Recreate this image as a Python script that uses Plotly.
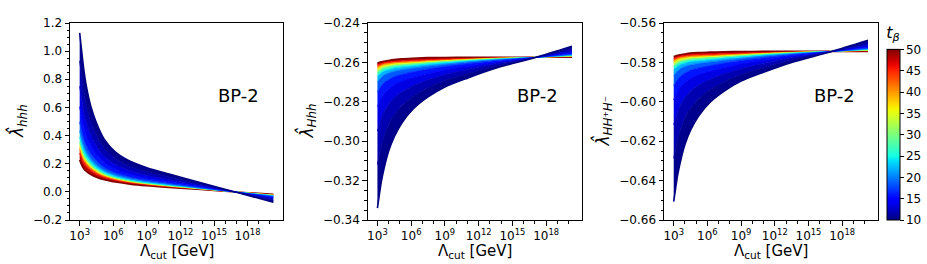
import plotly.graph_objects as go

# ---------------- data ----------------
lambda_cut = [1.0e3, 1.413e3, 2.239e3, 3.981e3, 1.0e4, 3.162e4, 1.585e5,
              1.585e6, 3.162e7, 1.0e9, 1.0e11, 3.162e13, 1.0e17, 1.995e20]

tan_beta = [10, 11, 12.5, 14.5, 17, 20, 24, 29, 35, 41, 46, 50]

lam_hhh = [
    [1.130, 1.020, 0.880, 0.750, 0.607, 0.489, 0.373, 0.283, 0.218, 0.172, 0.126, 0.072, -0.003, -0.074],
    [0.931, 0.838, 0.723, 0.617, 0.500, 0.404, 0.310, 0.236, 0.182, 0.144, 0.105, 0.060, -0.003, -0.062],
    [0.750, 0.673, 0.580, 0.496, 0.404, 0.327, 0.252, 0.194, 0.150, 0.118, 0.086, 0.049, -0.002, -0.050],
    [0.606, 0.541, 0.465, 0.399, 0.326, 0.266, 0.207, 0.159, 0.123, 0.097, 0.071, 0.041, -0.002, -0.042],
    [0.497, 0.442, 0.380, 0.326, 0.268, 0.220, 0.172, 0.134, 0.104, 0.082, 0.060, 0.034, -0.002, -0.035],
    [0.434, 0.385, 0.330, 0.284, 0.234, 0.193, 0.152, 0.119, 0.093, 0.073, 0.053, 0.030, -0.002, -0.031],
    [0.389, 0.344, 0.294, 0.254, 0.210, 0.173, 0.138, 0.108, 0.084, 0.066, 0.048, 0.028, -0.001, -0.028],
    [0.353, 0.311, 0.265, 0.230, 0.191, 0.158, 0.126, 0.100, 0.078, 0.061, 0.044, 0.026, -0.001, -0.026],
    [0.330, 0.290, 0.247, 0.215, 0.179, 0.148, 0.119, 0.095, 0.074, 0.058, 0.042, 0.024, -0.001, -0.024],
    [0.307, 0.269, 0.229, 0.200, 0.167, 0.139, 0.112, 0.089, 0.070, 0.055, 0.040, 0.023, -0.001, -0.023],
    [0.276, 0.240, 0.204, 0.178, 0.150, 0.125, 0.102, 0.082, 0.064, 0.050, 0.036, 0.021, -0.001, -0.021],
    [0.226, 0.195, 0.165, 0.145, 0.123, 0.104, 0.086, 0.070, 0.055, 0.043, 0.031, 0.018, -0.001, -0.018],
]

lam_Hhh = [
    [-0.3340, -0.3280, -0.3205, -0.3136, -0.3050, -0.2977, -0.2905, -0.2835, -0.2775, -0.2725, -0.2680, -0.2630, -0.2576, -0.2518],
    [-0.3119, -0.3076, -0.3023, -0.2973, -0.2916, -0.2866, -0.2818, -0.2772, -0.2729, -0.2692, -0.2657, -0.2618, -0.2576, -0.2530],
    [-0.2949, -0.2920, -0.2883, -0.2849, -0.2811, -0.2778, -0.2748, -0.2718, -0.2688, -0.2662, -0.2636, -0.2607, -0.2575, -0.2542],
    [-0.2824, -0.2804, -0.2779, -0.2757, -0.2734, -0.2713, -0.2694, -0.2676, -0.2656, -0.2638, -0.2619, -0.2598, -0.2575, -0.2550],
    [-0.2750, -0.2736, -0.2719, -0.2702, -0.2687, -0.2672, -0.2660, -0.2647, -0.2633, -0.2620, -0.2606, -0.2591, -0.2575, -0.2557],
    [-0.2699, -0.2688, -0.2676, -0.2664, -0.2654, -0.2645, -0.2637, -0.2629, -0.2619, -0.2610, -0.2598, -0.2587, -0.2575, -0.2561],
    [-0.2669, -0.2661, -0.2652, -0.2643, -0.2636, -0.2628, -0.2623, -0.2617, -0.2609, -0.2602, -0.2593, -0.2584, -0.2574, -0.2564],
    [-0.2651, -0.2644, -0.2637, -0.2629, -0.2623, -0.2617, -0.2613, -0.2608, -0.2602, -0.2596, -0.2589, -0.2582, -0.2574, -0.2566],
    [-0.2636, -0.2631, -0.2624, -0.2618, -0.2614, -0.2609, -0.2606, -0.2602, -0.2597, -0.2592, -0.2586, -0.2580, -0.2574, -0.2568],
    [-0.2624, -0.2619, -0.2614, -0.2609, -0.2606, -0.2602, -0.2599, -0.2597, -0.2592, -0.2589, -0.2584, -0.2579, -0.2574, -0.2569],
    [-0.2613, -0.2610, -0.2606, -0.2602, -0.2598, -0.2595, -0.2592, -0.2589, -0.2586, -0.2583, -0.2580, -0.2577, -0.2574, -0.2571],
    [-0.2603, -0.2600, -0.2597, -0.2594, -0.2590, -0.2586, -0.2582, -0.2579, -0.2576, -0.2575, -0.2574, -0.2574, -0.2574, -0.2574],
]

lam_HHpHm = [
    [-0.6507, -0.6447, -0.6372, -0.6303, -0.6217, -0.6144, -0.6073, -0.6004, -0.5945, -0.5895, -0.5850, -0.5800, -0.5746, -0.5688],
    [-0.6286, -0.6243, -0.6190, -0.6140, -0.6083, -0.6033, -0.5986, -0.5941, -0.5899, -0.5862, -0.5827, -0.5788, -0.5746, -0.5700],
    [-0.6116, -0.6087, -0.6050, -0.6016, -0.5978, -0.5945, -0.5916, -0.5887, -0.5858, -0.5832, -0.5806, -0.5777, -0.5745, -0.5712],
    [-0.5991, -0.5971, -0.5946, -0.5924, -0.5901, -0.5880, -0.5862, -0.5845, -0.5826, -0.5808, -0.5789, -0.5768, -0.5745, -0.5720],
    [-0.5917, -0.5903, -0.5886, -0.5869, -0.5854, -0.5839, -0.5828, -0.5816, -0.5803, -0.5790, -0.5776, -0.5761, -0.5745, -0.5727],
    [-0.5866, -0.5855, -0.5843, -0.5831, -0.5821, -0.5812, -0.5805, -0.5798, -0.5789, -0.5780, -0.5768, -0.5757, -0.5745, -0.5731],
    [-0.5836, -0.5828, -0.5819, -0.5810, -0.5803, -0.5795, -0.5791, -0.5786, -0.5779, -0.5772, -0.5763, -0.5754, -0.5744, -0.5734],
    [-0.5818, -0.5811, -0.5804, -0.5796, -0.5790, -0.5784, -0.5781, -0.5777, -0.5772, -0.5766, -0.5759, -0.5752, -0.5744, -0.5736],
    [-0.5803, -0.5798, -0.5791, -0.5785, -0.5781, -0.5776, -0.5774, -0.5771, -0.5767, -0.5762, -0.5756, -0.5750, -0.5744, -0.5738],
    [-0.5791, -0.5786, -0.5781, -0.5776, -0.5773, -0.5769, -0.5767, -0.5766, -0.5762, -0.5759, -0.5754, -0.5749, -0.5744, -0.5739],
    [-0.5780, -0.5777, -0.5773, -0.5769, -0.5765, -0.5762, -0.5760, -0.5758, -0.5756, -0.5753, -0.5750, -0.5747, -0.5744, -0.5741],
    [-0.5770, -0.5767, -0.5764, -0.5761, -0.5757, -0.5753, -0.5750, -0.5748, -0.5746, -0.5745, -0.5744, -0.5744, -0.5744, -0.5744],
]

x_tick_vals = [1e3, 1e6, 1e9, 1e12, 1e15, 1e18]
x_tick_text = ["10<sup>3</sup>", "10<sup>6</sup>", "10<sup>9</sup>",
               "10<sup>12</sup>", "10<sup>15</sup>", "10<sup>18</sup>"]
y1_ticks = [-0.2, 0.0, 0.2, 0.4, 0.6, 0.8, 1.0, 1.2]
y2_ticks = [-0.34, -0.32, -0.30, -0.28, -0.26, -0.24]
y3_ticks = [-0.66, -0.64, -0.62, -0.60, -0.58, -0.56]
cbar_ticks = [10, 15, 20, 25, 30, 35, 40, 45, 50]
tb_min, tb_max = 10, 50

# ---------------- colour map (matplotlib "jet") ----------------
_jet = {
    "r": [(0, 0), (0.35, 0), (0.66, 1), (0.89, 1), (1, 0.5)],
    "g": [(0, 0), (0.125, 0), (0.375, 1), (0.64, 1), (0.91, 0), (1, 0)],
    "b": [(0, 0.5), (0.11, 1), (0.34, 1), (0.65, 0), (1, 0)],
}


def _interp(pts, v):
    for (x0, y0), (x1, y1) in zip(pts[:-1], pts[1:]):
        if v <= x1:
            return y0 + (y1 - y0) * (v - x0) / (x1 - x0)
    return pts[-1][1]


def jet(v):
    v = min(max(v, 0.0), 1.0)
    r, g, b = (_interp(_jet[c], v) for c in "rgb")
    return "rgb(%d,%d,%d)" % (round(r * 255), round(g * 255), round(b * 255))


def tb_color(tb):
    return jet((tb - tb_min) / (tb_max - tb_min))


jet_scale = [[i / 40, jet(i / 40)] for i in range(41)]

# ---------------- layout geometry ----------------
W, H = 927, 264
FONT = "DejaVu Sans"
plots = [(70, 283), (367.7, 581.7), (664, 877.7)]
y_top, y_bot = 23, 220
ydom = [1 - y_bot / H, 1 - y_top / H]

fig = go.Figure()

panels = [
    (lam_hhh, "x", "y"),
    (lam_Hhh, "x2", "y2"),
    (lam_HHpHm, "x3", "y3"),
]

for data, xa, ya in panels:
    order = list(range(len(tan_beta)))[::-1]  # draw from tb=50 to tb=10
    for k, i in enumerate(order):
        tb = tan_beta[i]
        tr = dict(
            x=lambda_cut, y=data[i], mode="lines", xaxis=xa, yaxis=ya,
            line=dict(color=tb_color(tb), width=1.6 if tb in (10, 50) else 1.0,
                      shape="spline", smoothing=0.8),
            showlegend=False, hoverinfo="skip",
        )
        if k > 0:
            prev_tb = tan_beta[order[k - 1]]
            tr["fill"] = "tonexty"
            tr["fillcolor"] = tb_color(0.5 * (tb + prev_tb))
        fig.add_trace(go.Scatter(**tr))

# colour bar carrier
fig.add_trace(go.Scatter(
    x=[None], y=[None], mode="markers", xaxis="x3", yaxis="y3", showlegend=False,
    marker=dict(color=[tb_min, tb_max], cmin=tb_min, cmax=tb_max, colorscale=jet_scale,
                showscale=True,
                colorbar=dict(
                    x=886.7 / W, xanchor="left", xpad=0,
                    y=1 - (y_top + y_bot) / 2 / H, yanchor="middle", ypad=0,
                    len=(y_bot - y_top) / H, lenmode="fraction",
                    thickness=12.6, thicknessmode="pixels",
                    outlinewidth=1, outlinecolor="black",
                    tickmode="array", tickvals=cbar_ticks,
                    ticks="outside", ticklen=3.5, tickcolor="black",
                    tickfont=dict(family=FONT, size=12, color="black"),
                    title=dict(text="<i>t</i><sub><i>β</i></sub>", side="top",
                               font=dict(family=FONT, size=16, color="black")),
                )),
))

minor_x = [10.0 ** k for k in range(2, 22) if k % 3 != 0]


def xaxis_cfg(x0, x1, anchor):
    return dict(
        domain=[x0 / W, x1 / W], anchor=anchor, type="log", range=[2.135, 21.165],
        tickmode="array", tickvals=x_tick_vals, ticktext=x_tick_text,
        ticks="outside", ticklen=4.5, tickwidth=1, tickcolor="black",
        showline=True, linecolor="black", linewidth=1, mirror=True,
        showgrid=False, zeroline=False,
        tickfont=dict(family=FONT, size=12, color="black"),
        minor=dict(tickmode="array", tickvals=minor_x, ticks="outside", ticklen=2.5,
                   tickcolor="black", tickwidth=0.8, showgrid=False),
    )


def yaxis_cfg(anchor, rng, ticks, fmt, minor_step):
    return dict(
        domain=ydom, anchor=anchor, range=rng,
        tickmode="array", tickvals=ticks,
        ticktext=[(fmt % t).replace("-", "−") for t in ticks],
        ticks="outside", ticklen=4.5, tickwidth=1, tickcolor="black",
        showline=True, linecolor="black", linewidth=1, mirror=True,
        showgrid=False, zeroline=False,
        tickfont=dict(family=FONT, size=12, color="black"),
        minor=dict(tickmode="linear", tick0=rng[0], dtick=minor_step, ticks="outside",
                   ticklen=2.5, tickcolor="black", tickwidth=0.8, showgrid=False),
    )


fig.update_layout(
    width=W, height=H, margin=dict(l=0, r=0, t=0, b=0, autoexpand=False),
    paper_bgcolor="white", plot_bgcolor="white",
    font=dict(family=FONT, color="black"),
    xaxis=xaxis_cfg(*plots[0], "y"),
    xaxis2=xaxis_cfg(*plots[1], "y2"),
    xaxis3=xaxis_cfg(*plots[2], "y3"),
    yaxis=yaxis_cfg("x", [-0.2, 1.2], y1_ticks, "%.1f", 0.05),
    yaxis2=yaxis_cfg("x2", [-0.34, -0.24], y2_ticks, "%.2f", 0.005),
    yaxis3=yaxis_cfg("x3", [-0.66, -0.56], y3_ticks, "%.2f", 0.005),
)

ylabels = ["<i>λ̂</i><sub><i>hhh</i></sub>",
           "<i>λ̂</i><sub><i>Hhh</i></sub>",
           "<i>λ̂</i><sub><i>HH⁺H⁻</i></sub>"]
ylabel_x = [17.5, 307, 603]
bp_x = [238.8, 537, 834.5]

ann = []
for (x0, x1), yl, ylx, bx in zip(plots, ylabels, ylabel_x, bp_x):
    ann.append(dict(text="Λ<sub>cut</sub> [GeV]", x=(x0 + x1) / 2 / W, y=1 - 251 / H,
                    xref="paper", yref="paper", showarrow=False,
                    xanchor="center", yanchor="middle",
                    font=dict(family=FONT, size=15, color="black")))
    ann.append(dict(text=yl, x=ylx / W, y=1 - (y_top + y_bot) / 2 / H,
                    xref="paper", yref="paper", showarrow=False, textangle=-90,
                    xanchor="center", yanchor="middle",
                    font=dict(family=FONT, size=17, color="black")))
    ann.append(dict(text="BP-2", x=bx / W, y=1 - 95.5 / H,
                    xref="paper", yref="paper", showarrow=False,
                    xanchor="center", yanchor="middle",
                    font=dict(family=FONT, size=18, color="black")))
fig.update_layout(annotations=ann)

fig.write_html("out.html", config={"displayModeBar": False},
               post_script="document.body.style.margin='0';document.body.style.padding='0';")
